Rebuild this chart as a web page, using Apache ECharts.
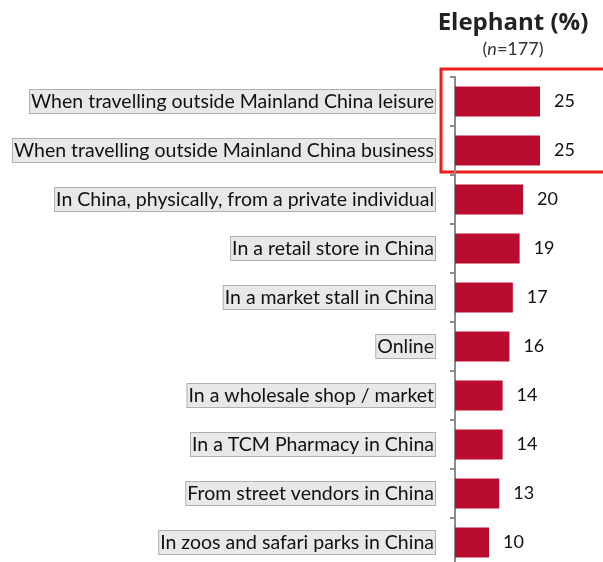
<!DOCTYPE html>
<html>
<head>
<meta charset="utf-8">
<script src="https://cdn.jsdelivr.net/npm/echarts@6/dist/echarts.min.js"></script>
<style>
  html, body { margin: 0; padding: 0; background: #fff; }
  #main { width: 603px; height: 562px; }
</style>
</head>
<body>
<div id="main"></div>
<script>
// 类别（从上到下）
var categories = [
    'When travelling outside Mainland China leisure',
    'When travelling outside Mainland China business',
    'In China, physically, from a private individual',
    'In a retail store in China',
    'In a market stall in China',
    'Online',
    'In a wholesale shop / market',
    'In a TCM Pharmacy in China',
    'From street vendors in China',
    'In zoos and safari parks in China'
];
var values = [25, 25, 20, 19, 17, 16, 14, 14, 13, 10];

var myChart = echarts.init(document.getElementById('main'));
var option = {
    animation: false,
    title: {
        text: 'Elephant (%)',
        left: 508,
        top: 6,
        textAlign: 'center',
        textStyle: {
            fontFamily: 'Open Sans',
            fontSize: 24,
            fontWeight: 'bold',
            color: '#222'
        },
        subtext: '{p|(}{i|n}{p|=177)}',
        itemGap: 5,
        subtextStyle: {
            rich: {
                p: {fontFamily: 'Lato', fontSize: 18, color: '#333'},
                i: {fontFamily: 'Lato', fontSize: 18, color: '#333', fontStyle: 'italic'}
            }
        }
    },
    grid: {
        left: 455,
        top: 77,
        width: 100,
        height: 490,
        containLabel: false,
        outerBoundsMode: 'none'
    },
    xAxis: {
        type: 'value',
        min: 0,
        max: 29.4,
        show: false
    },
    yAxis: {
        type: 'category',
        inverse: true,
        data: categories,
        axisLine: {show: true, lineStyle: {color: '#8c8c8c', width: 2}},
        axisTick: {show: true, length: 5, lineStyle: {color: '#8c8c8c', width: 2}},
        axisLabel: {
            margin: 20,
            fontFamily: 'Lato',
            fontSize: 19.5,
            color: '#111',
            backgroundColor: '#e8e8e8',
            borderColor: '#b0b0b0',
            borderWidth: 1,
            padding: [2, 1, 1, 1]
        }
    },
    series: [{
        type: 'bar',
        data: values,
        barWidth: 30,
        itemStyle: {color: '#ba0c2f'},
        label: {
            show: true,
            position: 'right',
            distance: 14,
            fontFamily: 'Lato',
            fontSize: 18,
            color: '#111'
        }
    }],
    graphic: [{
        type: 'rect',
        shape: {x: 441, y: 69, width: 170, height: 103},
        style: {fill: 'none', stroke: '#ee1c1c', lineWidth: 3}
    }]
};
myChart.setOption(option);
</script>
</body>
</html>
